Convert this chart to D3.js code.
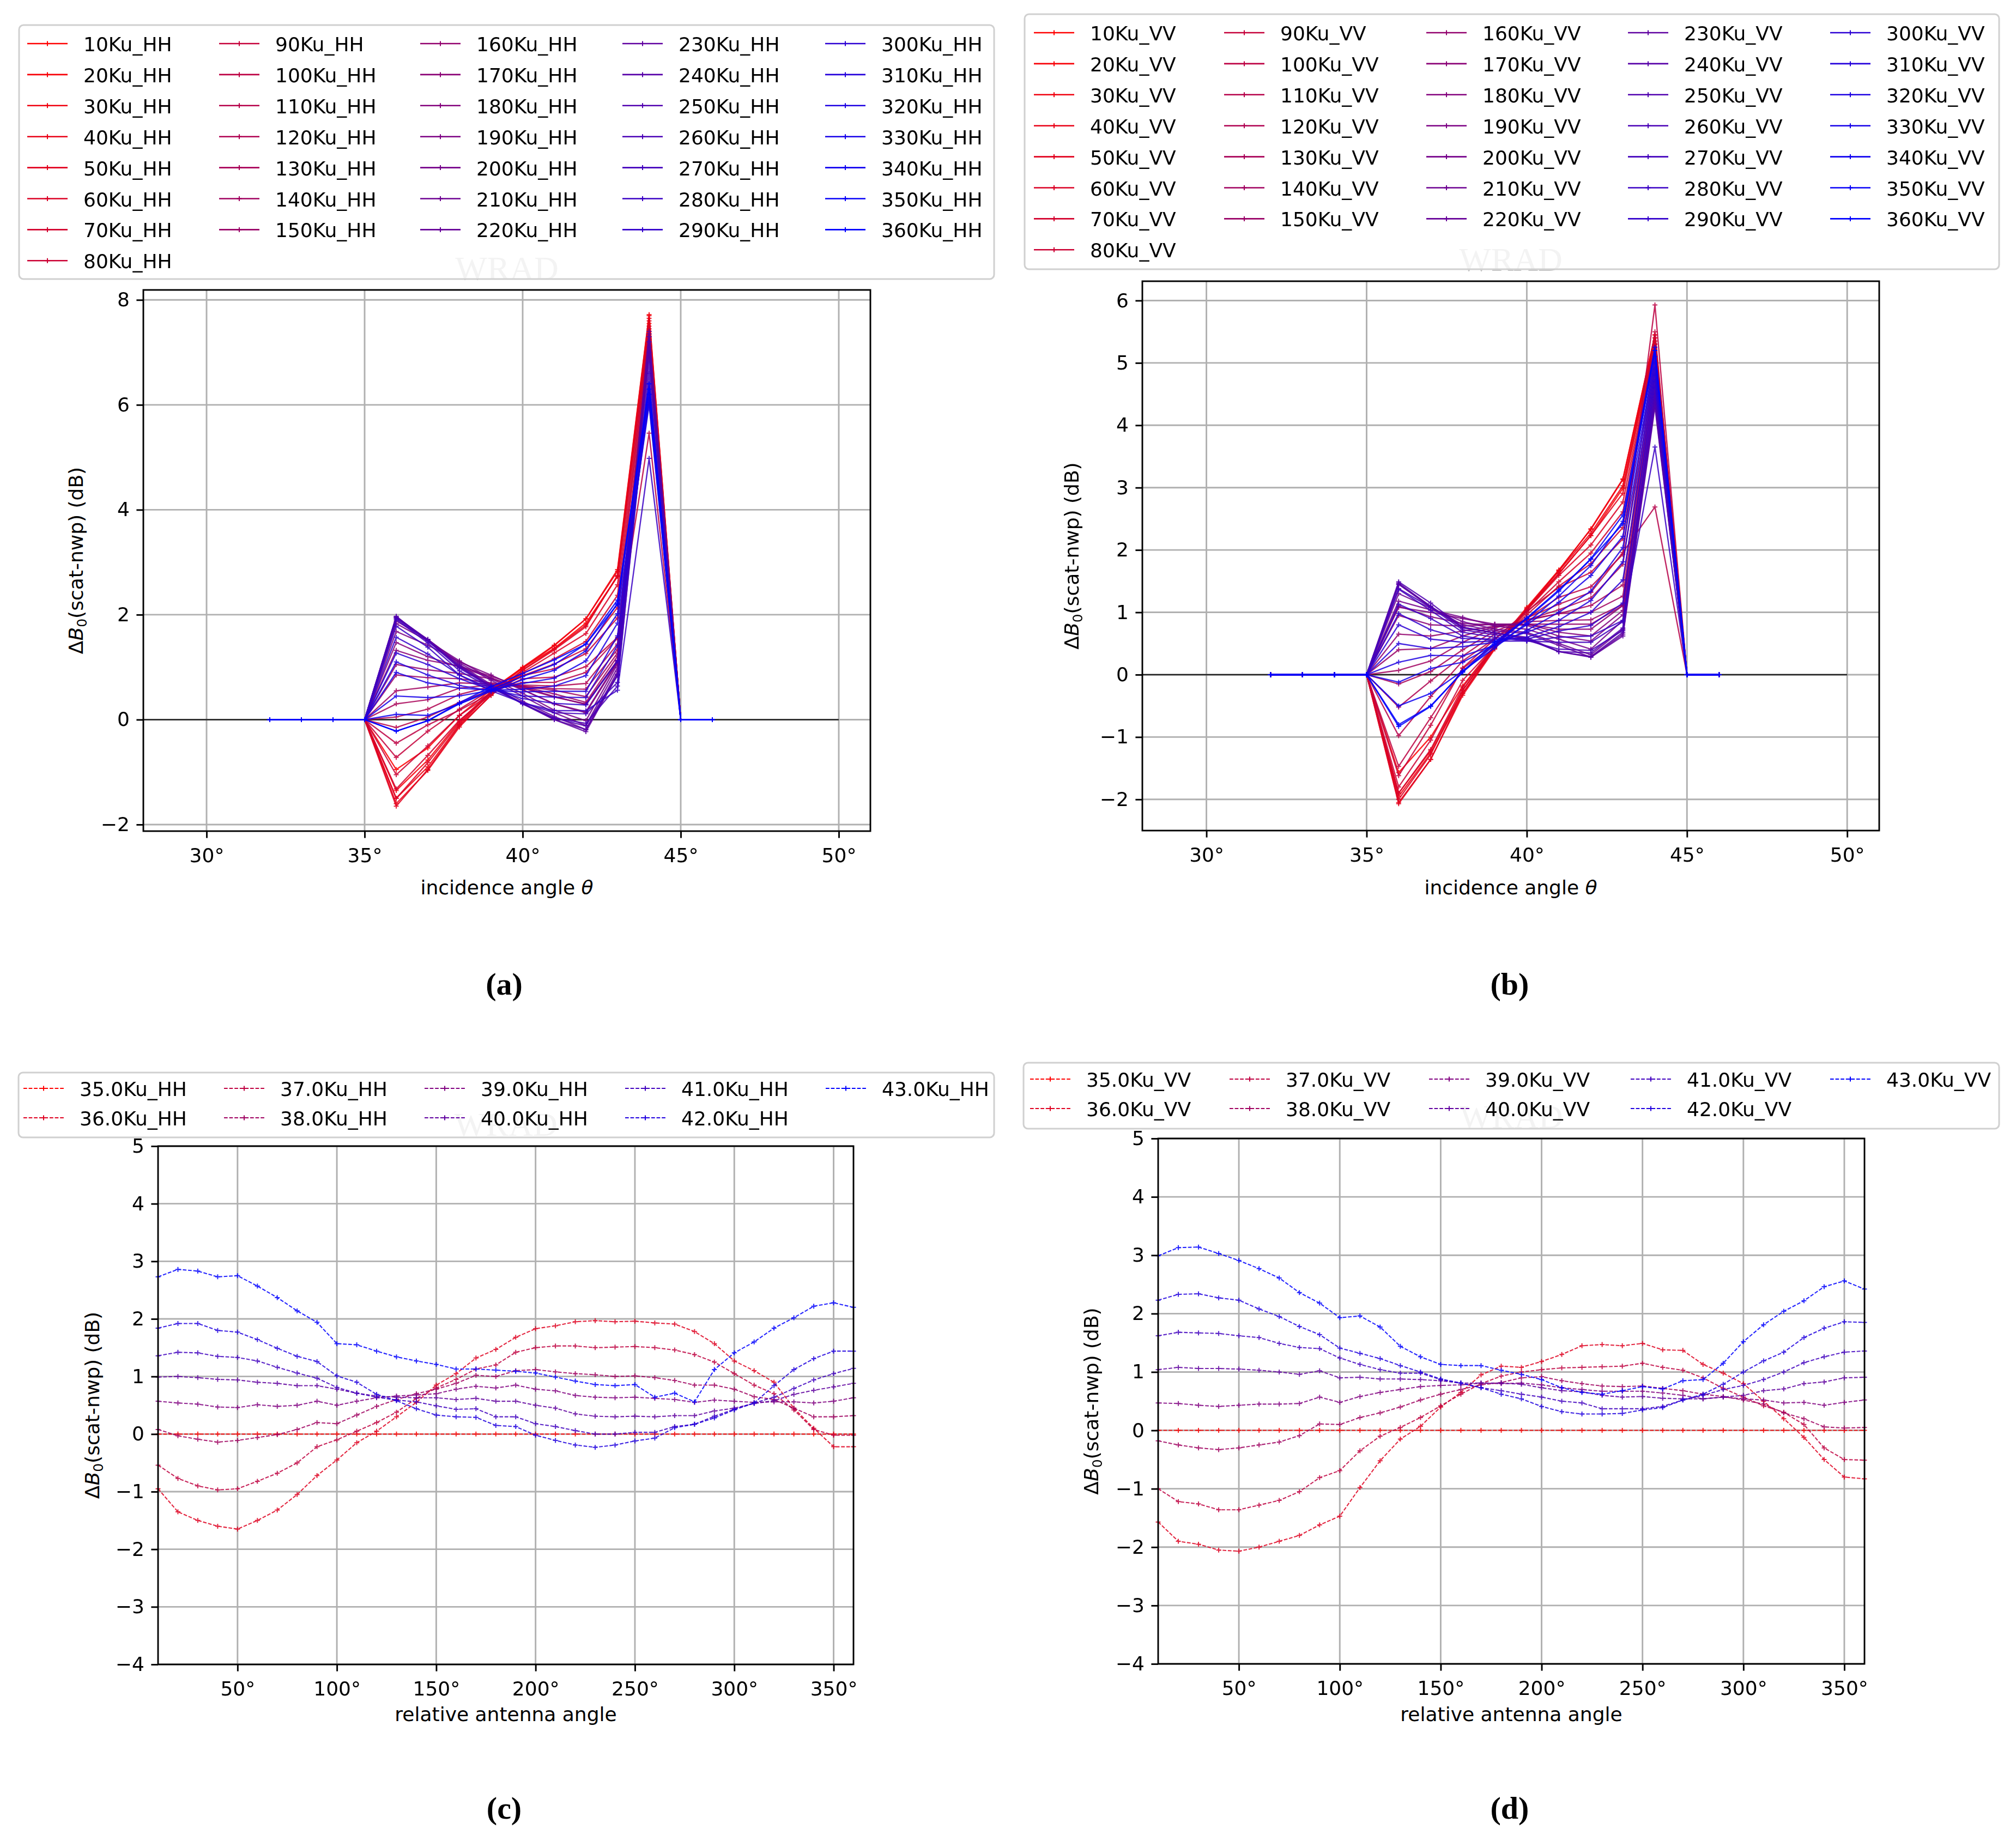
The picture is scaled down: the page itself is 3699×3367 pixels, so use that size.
<!DOCTYPE html>
<html>
<head>
<meta charset="utf-8">
<script src="https://cdn.jsdelivr.net/npm/d3@7"></script>
<style>
  body { margin: 0; background: #fff; }
  svg { display: block; }
</style>
</head>
<body>
<script>
const W = 3699, H = 3367

// relative antenna angle (series of a/b, x axis of c/d)
const antennaAngles = [10, 20, 30, 40, 50, 60, 70, 80, 90, 100, 110, 120, 130, 140, 150, 160, 170, 180,
  190, 200, 210, 220, 230, 240, 250, 260, 270, 280, 290, 300, 310, 320, 330, 340, 350, 360]
// incidence angles (x axis of a/b)
const incidenceAngles = [32, 33, 34, 35, 36, 37, 38, 39, 40, 41, 42, 43, 44, 45, 46]
// incidence angles shown as series in c/d
const incidenceSeries = [35, 36, 37, 38, 39, 40, 41, 42, 43]

// HH: delta B0 per incidence angle, one value per antenna angle (0 at 32-35, 45, 46)
const hh36 = [-0.95,-1.35,-1.50,-1.60,-1.65,-1.50,-1.32,-1.05,-0.72,-0.45,-0.15,0.05,0.30,0.55,0.85,1.05,1.32,1.47,1.68,1.83,1.88,1.95,1.97,1.95,1.96,1.93,1.91,1.78,1.57,1.27,1.10,0.90,0.45,0.10,-0.22,-0.22]
const hh37 = [-0.54,-0.77,-0.90,-0.97,-0.95,-0.82,-0.68,-0.50,-0.22,-0.10,0.05,0.20,0.38,0.62,0.80,0.95,1.13,1.20,1.42,1.50,1.53,1.53,1.50,1.51,1.52,1.50,1.46,1.38,1.25,1.05,0.85,0.70,0.42,0.08,-0.02,-0.02]
const hh38 = [0.08,-0.03,-0.09,-0.14,-0.11,-0.06,-0.01,0.08,0.20,0.18,0.33,0.48,0.60,0.70,0.78,0.88,1.02,1.00,1.10,1.12,1.08,1.05,1.03,1.00,1.01,0.98,0.93,0.85,0.85,0.78,0.65,0.60,0.45,0.30,0.30,0.32]
const hh39 = [0.57,0.54,0.52,0.47,0.46,0.51,0.48,0.50,0.57,0.50,0.57,0.63,0.66,0.68,0.70,0.78,0.83,0.80,0.85,0.78,0.75,0.67,0.64,0.63,0.64,0.62,0.60,0.55,0.59,0.57,0.55,0.56,0.56,0.54,0.57,0.63]
const hh40 = [0.99,1.00,0.98,0.95,0.94,0.90,0.88,0.84,0.84,0.78,0.71,0.66,0.64,0.63,0.63,0.60,0.62,0.57,0.57,0.50,0.45,0.35,0.31,0.30,0.31,0.30,0.32,0.32,0.40,0.45,0.53,0.58,0.69,0.76,0.82,0.88]
const hh41 = [1.36,1.42,1.41,1.35,1.33,1.27,1.16,1.06,0.97,0.81,0.71,0.64,0.59,0.56,0.49,0.43,0.44,0.30,0.30,0.18,0.13,0.06,0.00,0.00,0.03,0.03,0.13,0.17,0.31,0.43,0.54,0.64,0.79,0.94,1.05,1.14]
const hh42 = [1.84,1.92,1.92,1.80,1.77,1.64,1.49,1.35,1.26,1.01,0.90,0.69,0.58,0.44,0.33,0.30,0.29,0.15,0.13,-0.02,-0.11,-0.19,-0.23,-0.19,-0.12,-0.07,0.11,0.17,0.28,0.42,0.54,0.84,1.12,1.31,1.44,1.44]
const hh43 = [2.73,2.86,2.83,2.73,2.75,2.57,2.37,2.14,1.94,1.57,1.55,1.44,1.34,1.27,1.21,1.13,1.13,1.11,1.09,1.06,0.99,0.92,0.86,0.84,0.86,0.64,0.71,0.56,1.12,1.41,1.60,1.84,2.02,2.22,2.28,2.20]
const hh44 = [7.55,7.72,7.70,7.65,7.60,7.50,7.45,7.40,7.35,5.46,7.30,7.25,7.20,7.15,7.10,7.05,7.00,7.10,7.20,7.30,7.35,7.40,7.30,7.20,7.00,6.80,6.60,4.98,6.40,6.20,6.10,6.00,6.05,6.20,6.30,6.40]

// VV
const vv36 = [-1.57,-1.90,-1.95,-2.05,-2.07,-2.00,-1.90,-1.80,-1.62,-1.47,-0.98,-0.52,-0.15,0.07,0.40,0.65,0.95,1.10,1.08,1.18,1.30,1.45,1.47,1.45,1.49,1.38,1.37,1.13,0.98,0.80,0.50,0.20,-0.12,-0.50,-0.80,-0.83]
const vv37 = [-1.00,-1.22,-1.26,-1.36,-1.36,-1.28,-1.20,-1.05,-0.81,-0.69,-0.35,-0.10,0.05,0.22,0.42,0.62,0.80,0.93,1.00,1.04,1.07,1.08,1.09,1.10,1.15,1.08,1.03,0.90,0.72,0.57,0.42,0.31,0.10,-0.30,-0.50,-0.51]
const vv38 = [-0.18,-0.25,-0.30,-0.33,-0.30,-0.25,-0.20,-0.09,0.11,0.10,0.22,0.30,0.40,0.52,0.62,0.70,0.78,0.82,0.90,0.92,0.85,0.80,0.76,0.75,0.76,0.72,0.68,0.62,0.58,0.52,0.45,0.30,0.20,0.06,0.04,0.05]
const vv39 = [0.47,0.46,0.43,0.41,0.43,0.45,0.45,0.46,0.57,0.48,0.58,0.65,0.70,0.75,0.77,0.78,0.81,0.80,0.81,0.78,0.73,0.70,0.67,0.67,0.67,0.64,0.60,0.54,0.57,0.54,0.52,0.47,0.48,0.43,0.48,0.52]
const vv40 = [1.04,1.08,1.06,1.06,1.05,1.03,1.00,0.96,1.02,0.90,0.91,0.88,0.88,0.87,0.85,0.81,0.81,0.81,0.79,0.73,0.68,0.66,0.60,0.57,0.58,0.55,0.54,0.54,0.57,0.60,0.68,0.71,0.80,0.83,0.90,0.91]
const vv41 = [1.62,1.68,1.67,1.66,1.62,1.59,1.49,1.42,1.40,1.24,1.13,1.04,0.98,0.98,0.87,0.81,0.73,0.68,0.62,0.57,0.50,0.47,0.37,0.37,0.37,0.41,0.52,0.60,0.70,0.77,0.87,1.00,1.16,1.26,1.34,1.36]
const vv42 = [2.23,2.33,2.34,2.27,2.23,2.08,1.95,1.78,1.64,1.41,1.32,1.23,1.11,1.00,0.88,0.81,0.73,0.62,0.54,0.41,0.32,0.28,0.28,0.29,0.35,0.39,0.52,0.62,0.79,1.00,1.19,1.34,1.59,1.75,1.86,1.85]
const vv43 = [2.99,3.13,3.14,3.03,2.91,2.77,2.61,2.36,2.18,1.93,1.96,1.77,1.44,1.26,1.13,1.11,1.11,1.03,0.96,0.87,0.73,0.65,0.62,0.68,0.75,0.71,0.85,0.87,1.15,1.52,1.81,2.04,2.22,2.46,2.56,2.42]
const vv44 = [5.40,5.45,5.45,5.40,5.35,5.30,5.30,5.25,5.50,5.93,2.69,5.20,5.10,5.00,4.90,4.80,4.70,4.60,4.50,4.45,4.40,4.35,4.30,4.35,4.40,4.50,4.60,3.65,4.70,4.80,4.90,5.00,5.10,5.20,5.25,5.20]

const hh = { 36: hh36, 37: hh37, 38: hh38, 39: hh39, 40: hh40, 41: hh41, 42: hh42, 43: hh43, 44: hh44 }
const vv = { 36: vv36, 37: vv37, 38: vv38, 39: vv39, 40: vv40, 41: vv41, 42: vv42, 43: vv43, 44: vv44 }

// ticks
const incTicks = [30, 35, 40, 45, 50]
const azTicks = [50, 100, 150, 200, 250, 300, 350]
const hhYTicks = [-2, 0, 2, 4, 6, 8]
const vvYTicks = [-2, -1, 0, 1, 2, 3, 4, 5, 6]
const azYTicks = [-4, -3, -2, -1, 0, 1, 2, 3, 4, 5]

const FONT = 'DejaVu Sans'
const FS = 36
const color = d3.interpolateRgb('#ff0000', '#0000ff')
const minus = s => String(s).replace('-', '\u2212')

const svg = d3.select('body').append('svg')
    .attr('width', W)
    .attr('height', H)
    .attr('viewBox', `0 0 ${W} ${H}`)
svg.append('rect').attr('width', W).attr('height', H).attr('fill', '#fff')

// value of table at incidence angle a, antenna index j (0 where nothing was measured)
const valueAt = (table, a, j) => table[a] ? table[a][j] : 0

function incidencePanel(table, pol) {
    return antennaAngles.map((az, j) => ({
        label: az + 'Ku_' + pol,
        points: incidenceAngles.map(a => [a, valueAt(table, a, j)])
    }))
}

function azimuthPanel(table, pol) {
    return incidenceSeries.map(a => ({
        label: a.toFixed(1) + 'Ku_' + pol,
        points: antennaAngles.map((az, j) => [az, valueAt(table, a, j)])
    }))
}

const panels = [
    {
        id: 'a', left: 263, right: 1597, top: 532, bottom: 1525,
        xDomain: [28, 51], yDomain: [-2.125, 8.19], xTicks: incTicks, yTicks: hhYTicks,
        series: incidencePanel(hh, 'HH'), dashed: false, zeroLine: [28, 50],
        xlabel: 'incidence', ylabelX: 152, xlabelY: 1641, capX: 925, capY: 1825,
        legend: { x0: 35, x1: 1824, y0: 46, y1: 512, row0: 80, step: 56.9, cols: [153, 505, 874, 1245, 1617] }
    },
    {
        id: 'b', left: 2096, right: 3448, top: 516, bottom: 1524,
        xDomain: [28, 51], yDomain: [-2.5, 6.31], xTicks: incTicks, yTicks: vvYTicks,
        series: incidencePanel(vv, 'VV'), dashed: false, zeroLine: [28, 50],
        xlabel: 'incidence', ylabelX: 1979, xlabelY: 1641, capX: 2770, capY: 1825,
        legend: { x0: 1880, x1: 3668, y0: 26, y1: 494, row0: 60, step: 56.9, cols: [2000, 2349, 2720, 3090, 3461] }
    },
    {
        id: 'c', left: 290, right: 1566, top: 2103, bottom: 3054,
        xDomain: [10, 360], yDomain: [-4, 5], xTicks: azTicks, yTicks: azYTicks,
        series: azimuthPanel(hh, 'HH'), dashed: true, zeroLine: null,
        xlabel: 'azimuth', ylabelX: 182, xlabelY: 3158, capX: 925, capY: 3337,
        legend: { x0: 34, x1: 1824, y0: 1968, y1: 2087, row0: 1997, step: 54, cols: [146, 514, 882, 1250, 1618] }
    },
    {
        id: 'd', left: 2125, right: 3421, top: 2089, bottom: 3053,
        xDomain: [10, 360], yDomain: [-4, 5], xTicks: azTicks, yTicks: azYTicks,
        series: azimuthPanel(vv, 'VV'), dashed: true, zeroLine: null,
        xlabel: 'azimuth', ylabelX: 2015, xlabelY: 3158, capX: 2770, capY: 3337,
        legend: { x0: 1878, x1: 3668, y0: 1950, y1: 2071, row0: 1980, step: 54, cols: [1993, 2359, 2725, 3095, 3461] }
    }
]

const DASH = '6.7,2.9'
const plusPath = 'M-4.5,0H4.5M0,-4.5V4.5'

panels.forEach(drawPanel)

function drawPanel(p) {
    const g = svg.append('g').attr('id', 'panel-' + p.id)
    const x = d3.scaleLinear().domain(p.xDomain).range([p.left, p.right])
    const y = d3.scaleLinear().domain(p.yDomain).range([p.bottom, p.top])

    // grid
    const grid = g.append('g').attr('stroke', '#b0b0b0').attr('stroke-width', 2.9)
    grid.selectAll('.gx').data(p.xTicks).join('line')
        .attr('x1', d => x(d)).attr('x2', d => x(d))
        .attr('y1', p.top).attr('y2', p.bottom)
    grid.selectAll('.gy').data(p.yTicks).join('line')
        .attr('x1', p.left).attr('x2', p.right)
        .attr('y1', d => y(d)).attr('y2', d => y(d))

    // reference line at 0
    if (p.zeroLine) {
        g.append('line')
            .attr('x1', x(p.zeroLine[0])).attr('x2', x(p.zeroLine[1]))
            .attr('y1', y(0)).attr('y2', y(0))
            .attr('stroke', '#222').attr('stroke-width', 2.6)
    }

    // series
    const line = d3.line().x(d => x(d[0])).y(d => y(d[1]))
    const n = p.series.length
    p.series.forEach((s, i) => {
        const c = color(i / (n - 1))
        const sg = g.append('g').attr('opacity', 0.85)
        sg.append('path')
            .attr('d', line(s.points))
            .attr('fill', 'none')
            .attr('stroke', c)
            .attr('stroke-width', p.dashed ? 2.1 : 2.4)
            .attr('stroke-dasharray', p.dashed ? DASH : null)
            .attr('stroke-linejoin', 'round')
        sg.selectAll('path.m').data(s.points).join('path')
            .attr('class', 'm')
            .attr('d', plusPath)
            .attr('transform', d => `translate(${x(d[0])},${y(d[1])})`)
            .attr('stroke', c)
            .attr('stroke-width', 2)
    })

    // axes frame
    g.append('rect')
        .attr('x', p.left).attr('y', p.top)
        .attr('width', p.right - p.left).attr('height', p.bottom - p.top)
        .attr('fill', 'none').attr('stroke', '#000').attr('stroke-width', 2.9)

    const fmtX = d => d + '°'
    const xAxis = d3.axisBottom(x).tickValues(p.xTicks).tickFormat(fmtX)
        .tickSize(12.6).tickSizeOuter(0).tickPadding(19)
    const yAxis = d3.axisLeft(y).tickValues(p.yTicks).tickFormat(minus)
        .tickSize(12.6).tickSizeOuter(0).tickPadding(12.6)

    const gx = g.append('g').attr('transform', `translate(0,${p.bottom})`).call(xAxis)
    const gy = g.append('g').attr('transform', `translate(${p.left},0)`).call(yAxis)
    ;[gx, gy].forEach(ax => {
        ax.select('.domain').remove()
        ax.attr('font-family', FONT).attr('font-size', FS)
        ax.selectAll('line').attr('stroke', '#000').attr('stroke-width', 2.9)
        ax.selectAll('text').attr('fill', '#000')
    })

    // x label
    const cx = (p.left + p.right) / 2
    const xl = g.append('text')
        .attr('x', cx).attr('y', p.xlabelY)
        .attr('text-anchor', 'middle')
        .attr('font-family', FONT).attr('font-size', FS)
    if (p.xlabel === 'incidence') {
        xl.append('tspan').text('incidence angle ')
        xl.append('tspan').attr('font-style', 'italic').text('θ')
    } else {
        xl.text('relative antenna angle')
    }

    // y label: ΔB0(scat-nwp) (dB)
    const cy = (p.top + p.bottom) / 2
    const yl = g.append('text')
        .attr('transform', `translate(${p.ylabelX},${cy}) rotate(-90)`)
        .attr('text-anchor', 'middle')
        .attr('font-family', FONT).attr('font-size', FS)
    yl.append('tspan').text('Δ')
    yl.append('tspan').attr('font-style', 'italic').text('B')
    yl.append('tspan').attr('font-size', 25).attr('dy', 7).text('0')
    yl.append('tspan').attr('dy', -7).text('(scat-nwp) (dB)')

    drawLegend(p)

    // watermark
    g.append('text')
        .attr('x', cx).attr('y', p.top - 19)
        .attr('text-anchor', 'middle')
        .attr('font-family', 'Liberation Serif').attr('font-size', 62)
        .attr('fill', '#c4c4c4')
        .text('WRAD')

    // sub caption
    g.append('text')
        .attr('x', p.capX).attr('y', p.capY)
        .attr('text-anchor', 'middle')
        .attr('font-family', 'Liberation Serif').attr('font-weight', 'bold').attr('font-size', 58)
        .text(`(${p.id})`)
}

function drawLegend(p) {
    const L = p.legend
    const lg = svg.append('g').attr('class', 'legend')
    lg.append('rect')
        .attr('x', L.x0).attr('y', L.y0)
        .attr('width', L.x1 - L.x0).attr('height', L.y1 - L.y0)
        .attr('rx', 8)
        .attr('fill', '#fff').attr('fill-opacity', 0.8)
        .attr('stroke', '#d0d0d0').attr('stroke-width', 3)

    // matplotlib style column filling
    const n = p.series.length, ncol = L.cols.length
    const nrows = Math.ceil(n / ncol)
    const nLarge = n % ncol === 0 ? ncol : n % ncol
    let idx = 0
    const slots = []
    for (let c = 0; c < ncol; c++) {
        const rows = c < nLarge ? nrows : nrows - 1
        for (let r = 0; r < rows && idx < n; r++) slots.push({ c, r, i: idx++ })
    }

    slots.forEach(({ c, r, i }) => {
        const s = p.series[i]
        const col = color(i / (n - 1))
        const tx = L.cols[c]
        const ty = L.row0 + r * L.step
        lg.append('line')
            .attr('x1', tx - 103).attr('x2', tx - 29)
            .attr('y1', ty).attr('y2', ty)
            .attr('stroke', col)
            .attr('stroke-width', p.dashed ? 2.1 : 2.6)
            .attr('stroke-dasharray', p.dashed ? DASH : null)
        lg.append('path')
            .attr('d', plusPath)
            .attr('transform', `translate(${tx - 66},${ty})`)
            .attr('stroke', col).attr('stroke-width', 2)
        lg.append('text')
            .attr('x', tx).attr('y', ty + 14)
            .attr('font-family', FONT).attr('font-size', FS)
            .attr('fill', '#000')
            .text(s.label)
    })
}
</script>
</body>
</html>
